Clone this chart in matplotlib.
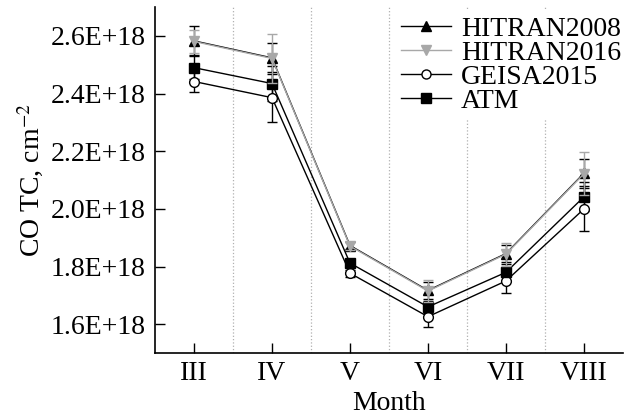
## CO total column by month for several spectroscopic line databases
import numpy as np
import matplotlib.pyplot as plt
from matplotlib.lines import Line2D
from matplotlib.ticker import FuncFormatter

## Months and their positions on the x axis
months = ['III', 'IV', 'V', 'VI', 'VII', 'VIII']

## Total column values, molecules per cm^2
hitran2008 = [2.583e18, 2.524e18, 1.873e18, 1.717e18, 1.845e18, 2.124e18]
hitran2016 = [2.581e18, 2.522e18, 1.871e18, 1.715e18, 1.843e18, 2.122e18]
geisa2015 = [2.442e18, 2.386e18, 1.777e18, 1.626e18, 1.750e18, 2.000e18]
atm = [2.490e18, 2.435e18, 1.812e18, 1.660e18, 1.780e18, 2.042e18]

## Standard deviations of each series
hitran2008Err = [0.05e18, 0.05e18, 0.012e18, 0.03e18, 0.03e18, 0.05e18]
hitran2016Err = [0.04e18, 0.085e18, 0.015e18, 0.038e18, 0.04e18, 0.075e18]
geisa2015Err = [0.035e18, 0.083e18, 0.012e18, 0.036e18, 0.042e18, 0.078e18]
atmErr = [0.04e18, 0.06e18, 0.01e18, 0.02e18, 0.03e18, 0.05e18]

def formatTick(value, position):
    ## Labels written as 2.6E+18
    return "%.1fE+18" % (value / 1e18)

def main():
    plt.rcParams['font.family'] = 'Liberation Serif'
    plt.rcParams['mathtext.fontset'] = 'stix'
    fontSize = 20

    fig = plt.figure(figsize=(6.31, 4.2), dpi=100)
    ax = fig.add_axes([0.2456, 0.1595, 0.7417, 0.8235])

    x = np.arange(1, len(months) + 1)

    ## Dotted separators between months
    for boundary in x[:-1] + 0.5:
        ax.axvline(boundary, color='#b0b0b0', linestyle=':', linewidth=0.9, zorder=0)

    common = dict(linewidth=1.0, markersize=7, capsize=3.5, elinewidth=1.0, capthick=1.0)
    series = [
        (hitran2008, hitran2008Err, 'black', '^', 'black', 'HITRAN2008', 3),
        (hitran2016, hitran2016Err, '#a8a8a8', 'v', '#a8a8a8', 'HITRAN2016', 4),
        (geisa2015, geisa2015Err, 'black', 'o', 'white', 'GEISA2015', 3),
        (atm, atmErr, 'black', 's', 'black', 'ATM', 3),
    ]
    handles = []
    for values, errors, color, marker, face, label, order in series:
        ax.errorbar(x, values, yerr=errors, color=color, marker=marker,
                    markerfacecolor=face, zorder=order, **common)
        handles.append(Line2D([], [], color=color, marker=marker, markerfacecolor=face,
                              linewidth=1.0, markersize=6.5, label=label))

    ax.set_xlim(0.5, 6.5)
    ax.set_ylim(1.5e18, 2.7e18)
    ax.set_xticks(x)
    ax.set_xticklabels(months)
    ax.set_yticks(np.arange(1.6e18, 2.61e18, 0.2e18))
    ax.yaxis.set_major_formatter(FuncFormatter(formatTick))
    ax.tick_params(direction='in', length=7, width=1.0, labelsize=fontSize, colors='black')
    ax.tick_params(axis='y', pad=7)
    ax.tick_params(axis='x', pad=6)

    for side in ['top', 'right']:
        ax.spines[side].set_visible(False)
    for side in ['left', 'bottom']:
        ax.spines[side].set_linewidth(1.2)

    ax.set_xlabel('Month', fontsize=fontSize, labelpad=3)
    ax.set_ylabel('CO TC, cm$^{-2}$', fontsize=fontSize, labelpad=3)

    legend = ax.legend(handles=handles, loc='upper right', bbox_to_anchor=(1.038, 1.03),
                       fontsize=fontSize, frameon=True, fancybox=False, edgecolor='none',
                       facecolor='white', framealpha=1.0, handlelength=1.8,
                       handletextpad=0.36, labelspacing=-0.05, borderpad=0.2)
    legend.set_zorder(5)

    plt.savefig("out.png", dpi=100)

if __name__ == "__main__":
    main()
